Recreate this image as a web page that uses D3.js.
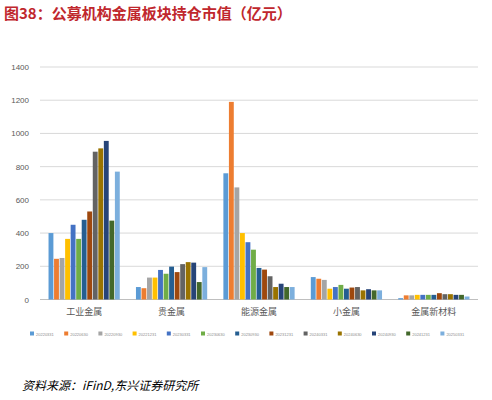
<!DOCTYPE html>
<html><head><meta charset="utf-8">
<script src="https://cdn.jsdelivr.net/npm/d3@7"></script>
<style>body{margin:0;background:#fff;font-family:"Noto Sans CJK SC",sans-serif}</style>
</head><body><svg id="chart" width="492" height="400"></svg>
<script>
var categories = ["工业金属", "贵金属", "能源金属", "小金属", "金属新材料"];
var seriesNames = ["20220331","20220630","20220930","20221231","20230331","20230630","20230930","20231231","20240331","20240630","20240930","20241231","20250331"];
var values = [
  [400, 245, 250, 365, 450, 365, 480, 530, 890, 910, 955, 475, 770],
  [75, 68, 132, 132, 178, 155, 198, 165, 213, 225, 222, 105, 195],
  [760, 1190, 675, 400, 345, 300, 190, 180, 140, 75, 95, 75, 75],
  [135, 125, 118, 65, 75, 88, 65, 72, 75, 55, 62, 55, 55],
  [8, 25, 25, 28, 28, 28, 28, 38, 32, 32, 28, 28, 18]
];
var yTicks = [0, 200, 400, 600, 800, 1000, 1200, 1400];
var colors = ["#5B9BD5","#ED7D31","#A5A5A5","#FFC000","#4472C4","#70AD47","#255E91","#9E480E","#636363","#997300","#264478","#43682B","#7CAFDD"];

var svg = d3.select("#chart");
svg.append("text").attr("x", 4).attr("y", 19).attr("fill", "#C0272D")
  .attr("font-size", 15).attr("font-weight", "bold").text("图38：公募机构金属板块持仓市值（亿元）");

var x0 = d3.scaleBand().domain(categories).range([40, 478]).paddingInner(0.17).paddingOuter(0.09);
var x1 = d3.scaleBand().domain(seriesNames).range([0, x0.bandwidth()]).padding(0.12);
var y = d3.scaleLinear().domain([0, 1400]).range([299.5, 67]);

svg.append("g").selectAll("line").data(yTicks).enter().append("line")
  .attr("x1", 40).attr("x2", 478).attr("y1", d => y(d)).attr("y2", d => y(d))
  .attr("stroke", d => d === 0 ? "#bfbfbf" : "#d9d9d9");
svg.append("g").selectAll("text").data(yTicks).enter().append("text")
  .attr("x", 29).attr("y", d => y(d) + 3).attr("text-anchor", "end")
  .attr("font-size", 8).attr("fill", "#595959").attr("font-family", "Liberation Sans").text(d => d);

var groups = svg.append("g").selectAll("g").data(categories).enter().append("g")
  .attr("transform", d => "translate(" + x0(d) + ",0)");
groups.selectAll("rect").data((d, i) => values[i].map((v, j) => ({v: v, j: j}))).enter().append("rect")
  .attr("x", d => x1(seriesNames[d.j])).attr("width", x1.bandwidth())
  .attr("y", d => y(d.v)).attr("height", d => y(0) - y(d.v))
  .attr("fill", d => colors[d.j]);

svg.append("g").selectAll("text").data(categories).enter().append("text")
  .attr("x", d => x0(d) + x0.bandwidth() / 2).attr("y", 315).attr("text-anchor", "middle")
  .attr("font-size", 9).attr("fill", "#595959").text(d => d);

var legend = svg.append("g").selectAll("g").data(seriesNames).enter().append("g")
  .attr("transform", (d, i) => "translate(" + (30 + i * 34.2) + ",335)");
legend.append("rect").attr("width", 4).attr("height", 4).attr("y", -3.5).attr("fill", (d, i) => colors[i]);
legend.append("text").attr("x", 6).attr("y", 0.5).attr("font-size", 4).attr("fill", "#8c8c8c")
  .attr("font-family", "Liberation Sans").text(d => d);

svg.append("text").attr("x", 22).attr("y", 390).attr("font-size", 12).attr("font-style", "italic")
  .attr("fill", "#000").text("资料来源：iFinD,东兴证券研究所");
</script></body></html>
